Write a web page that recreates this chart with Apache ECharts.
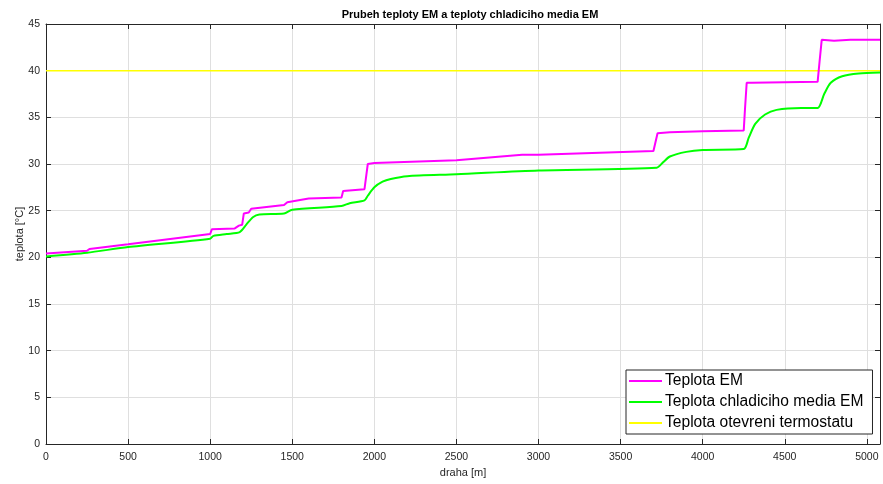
<!DOCTYPE html>
<html><head><meta charset="utf-8">
<script src="https://cdn.jsdelivr.net/npm/echarts@6/dist/echarts.min.js"></script>
<style>html,body{margin:0;padding:0;background:#fff}#c{width:883px;height:484px}</style>
</head><body><div id="c"></div>
<script>
const emDist = [0,250,265,500,1000,1010,1150,1175,1195,1205,1235,1250,1450,1460,1470,1600,1800,1810,1820,1940,1950,1960,2000,2500,2900,3000,3700,3725,3735,3800,4000,4250,4258,4268,4300,4700,4712,4725,4800,4900,5080];
const emTemp = [20.4,20.7,20.9,21.4,22.5,23.0,23.1,23.4,23.5,24.7,24.8,25.2,25.6,25.8,25.9,26.3,26.4,27.1,27.2,27.3,27.5,30.0,30.1,30.4,31.0,31.0,31.4,33.3,33.4,33.4,33.5,33.6,36.0,38.7,38.7,38.8,41.0,43.3,43.2,43.3,43.3];
const coolDist = [0,250,500,1000,1020,1100,1180,1220,1260,1300,1450,1500,1800,1850,1940,1960,2000,2050,2100,2200,2500,3000,3720,3760,3800,3900,4000,4250,4280,4320,4380,4450,4600,4700,4740,4780,4850,4950,5080];
const coolTemp = [20.1,20.5,21.1,22.0,22.3,22.5,22.7,23.5,24.3,24.6,24.7,25.1,25.5,25.8,26.1,26.6,27.5,28.1,28.4,28.7,28.9,29.3,29.6,30.2,30.8,31.3,31.5,31.6,32.8,34.3,35.3,35.8,36.0,36.0,37.5,38.7,39.4,39.7,39.8];
const thermoDist = [0,5080];
const thermoTemp = [40,40];
const xTicks = [0,500,1000,1500,2000,2500,3000,3500,4000,4500,5000];
const yTicks = [0,5,10,15,20,25,30,35,40,45];

const zip = (a,b) => a.map((v,i)=>[v,b[i]]);
const font = 'Liberation Sans, Arial, sans-serif';
const axCol = '#262626';
const chart = echarts.init(document.getElementById('c'));
const baseX = {type:'value', min:0, max:5080, interval:500,
  axisLine:{show:true,onZero:false,lineStyle:{color:axCol,width:1}},
  axisTick:{show:true,inside:true,length:5,lineStyle:{color:axCol}},
  splitLine:{show:false}};
const baseY = {type:'value', min:0, max:45, interval:5,
  axisLine:{show:true,onZero:false,lineStyle:{color:axCol,width:1}},
  axisTick:{show:true,inside:true,length:5,lineStyle:{color:axCol}},
  splitLine:{show:false}};
chart.setOption({
  animation:false,
  backgroundColor:'#fff',
  title:{text:'Prubeh teploty EM a teploty chladiciho media EM', left:465, top:4, textAlign:'center',
    textStyle:{fontFamily:font,fontSize:11,fontWeight:'bold',color:'#000'}},
  grid:{left:46, right:-1, top:24, bottom:40, containLabel:false},
  xAxis:[
    Object.assign({}, baseX, {position:'bottom', name:'draha [m]', nameLocation:'middle', nameGap:22,
      nameTextStyle:{fontFamily:font,fontSize:11,color:axCol},
      axisLabel:{fontFamily:font,fontSize:10.5,color:axCol,margin:8,
        formatter:v=>xTicks.includes(v)?String(v):''},
      splitLine:{show:true,lineStyle:{color:'#dfdfdf',width:1}}}),
    Object.assign({}, baseX, {position:'top', axisLabel:{show:false}})
  ],
  yAxis:[
    Object.assign({}, baseY, {position:'left', name:'teplota [°C]', nameLocation:'middle', nameGap:21,
      nameMoveOverlap:false,
      nameTextStyle:{fontFamily:font,fontSize:11,color:axCol},
      axisLabel:{fontFamily:font,fontSize:10.5,color:axCol,margin:6,
        formatter:v=>yTicks.includes(v)?String(v):''},
      splitLine:{show:true,lineStyle:{color:'#dfdfdf',width:1}}}),
    Object.assign({}, baseY, {position:'right', axisLabel:{show:false}})
  ],
  legend:{orient:'vertical', left:626, top:370, itemWidth:33, itemHeight:2, itemGap:5,
    padding:[3,9,3,3], backgroundColor:'#fff', borderColor:'#262626', borderWidth:1,
    icon:'rect',
    textStyle:{fontFamily:font,fontSize:15.6,color:'#000',padding:[0,0,0,-2]},
    data:['Teplota EM','Teplota chladiciho media EM','Teplota otevreni termostatu']},
  series:[
    {name:'Teplota otevreni termostatu', type:'line', data:zip(thermoDist,thermoTemp), showSymbol:false,
      lineStyle:{color:'#ffff00',width:1.5}, itemStyle:{color:'#ffff00'}},
    {name:'Teplota chladiciho media EM', type:'line', data:zip(coolDist,coolTemp), showSymbol:false,
      smooth:0.25,
      lineStyle:{color:'#00ff00',width:2}, itemStyle:{color:'#00ff00'}},
    {name:'Teplota EM', type:'line', data:zip(emDist,emTemp), showSymbol:false,
      lineStyle:{color:'#ff00ff',width:2}, itemStyle:{color:'#ff00ff'}}
  ]
});
</script></body></html>
